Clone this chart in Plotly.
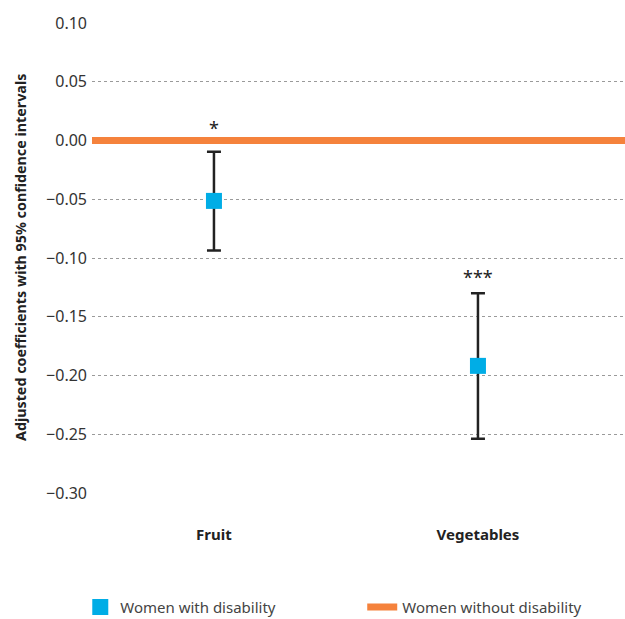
import plotly.graph_objects as go

categories = ["Fruit", "Vegetables"]
coef = [-0.0514, -0.1918]
ci_upper = [-0.0095, -0.1300]
ci_lower = [-0.0937, -0.2538]
significance = ["*", "***"]
baseline_value = 0.0
y_ticks = [0.10, 0.05, 0.00, -0.05, -0.10, -0.15, -0.20, -0.25, -0.30]
y_tick_labels = ["0.10", "0.05", "0.00", "\u22120.05", "\u22120.10", "\u22120.15",
                 "\u22120.20", "\u22120.25", "\u22120.30"]
y_title = "Adjusted coefficients with 95% confidence intervals"

x_pos = list(range(len(categories)))
x_range = [-0.462, 1.557]
star_shift = [24, 16]

FONT = "Noto Sans"
BLUE = "#00ADE6"
ORANGE = "#F5823C"

fig = go.Figure()

fig.add_trace(go.Scatter(
    x=x_range, y=[baseline_value, baseline_value], mode="lines",
    name="Women without disability", legend="legend2",
    line=dict(color=ORANGE, width=7),
))

fig.add_trace(go.Scatter(
    x=x_pos, y=coef, mode="markers", name="Women with disability", legend="legend",
    marker=dict(symbol="square", size=16, color=BLUE),
    error_y=dict(type="data", symmetric=False,
                 array=[u - c for u, c in zip(ci_upper, coef)],
                 arrayminus=[c - l for c, l in zip(coef, ci_lower)],
                 color="#222222", thickness=2.5, width=7),
))

for xp, up, s, sh in zip(x_pos, ci_upper, significance, star_shift):
    fig.add_annotation(x=xp, y=up, text=s, showarrow=False, yshift=sh,
                       font=dict(family=FONT, size=18, color="#222222"))

fig.add_annotation(xref="paper", yref="paper", x=-72 / 533, y=0.5, text=y_title,
                   textangle=-90, showarrow=False, xanchor="center", yanchor="middle",
                   font=dict(family=FONT, size=14.3, color="#222222", weight="bold"))

legend_style = dict(orientation="h", xanchor="left", y=-0.243, yanchor="middle",
                    font=dict(family=FONT, size=15, color="#444444"),
                    bgcolor="rgba(0,0,0,0)")

fig.update_layout(
    width=625, height=619,
    margin=dict(l=92, r=0, t=23, b=126, autoexpand=False),
    paper_bgcolor="white", plot_bgcolor="white",
    font=dict(family=FONT, color="#333333"),
    showlegend=True,
    legend=dict(x=-0.022, **legend_style),
    legend2=dict(x=0.507, **legend_style),
    xaxis=dict(range=x_range, tickmode="array", tickvals=x_pos, ticktext=categories,
               showgrid=False, zeroline=False, showline=False, ticks="",
               tickfont=dict(family=FONT, size=15, color="#222222", weight="bold"),
               ticklabelstandoff=31, automargin=False),
    yaxis=dict(range=[-0.3, 0.1], tickmode="array", tickvals=y_ticks,
               ticktext=y_tick_labels, showgrid=True, gridcolor="#9a9a9a",
               griddash="dot", gridwidth=1, zeroline=False, showline=False,
               ticks="", tickfont=dict(family=FONT, size=16, color="#333333"),
               ticklabelstandoff=4, automargin=False),
)

fig.write_html("out.html", config={"displayModeBar": False},
               post_script="document.body.style.margin='0px';document.body.style.overflow='hidden';")
